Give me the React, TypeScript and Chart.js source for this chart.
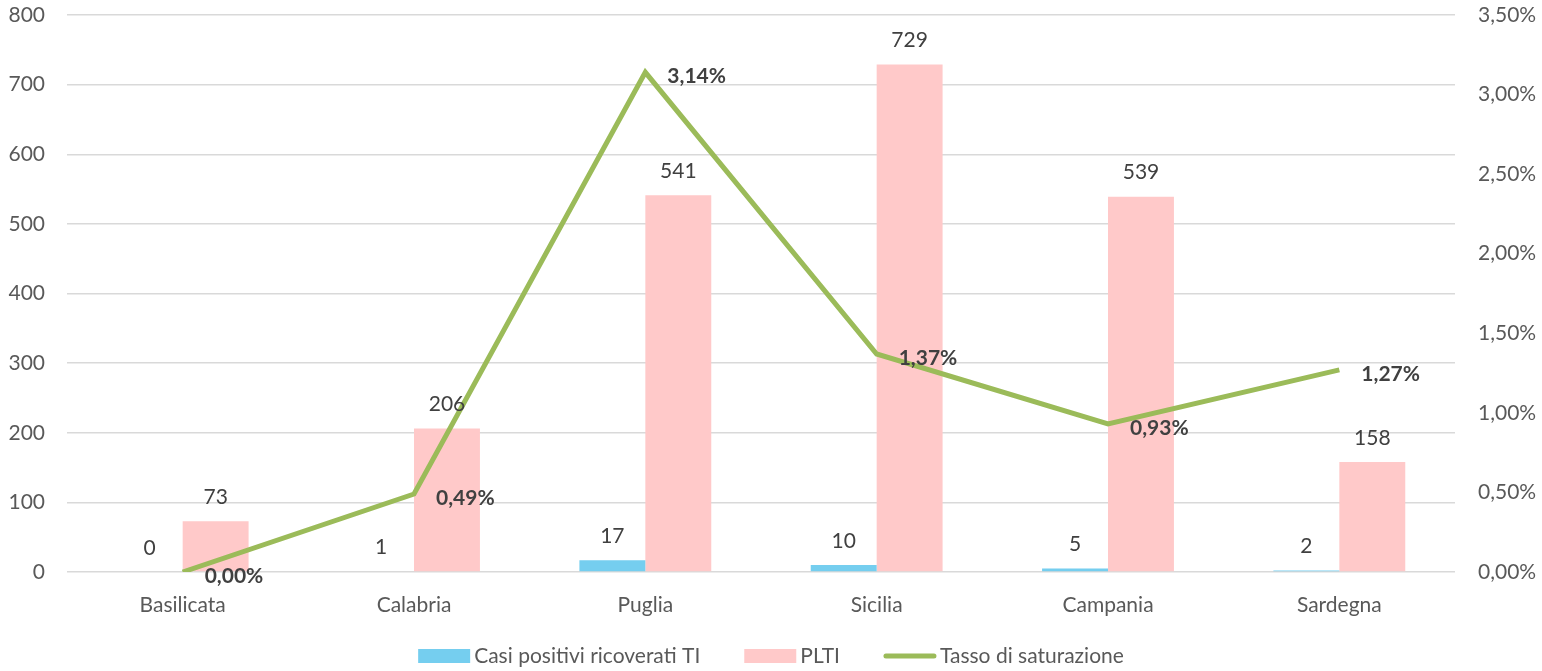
import React, { useEffect, useRef } from "react";
import { Chart, registerables } from "chart.js";

Chart.register(...registerables);

const categories = ["Basilicata", "Calabria", "Puglia", "Sicilia", "Campania", "Sardegna"];
const casiPositivi = [0, 1, 17, 10, 5, 2];
const plti = [73, 206, 541, 729, 539, 158];
const tassoSaturazione = [0.0, 0.0049, 0.0314, 0.0137, 0.0093, 0.0127];

const FONT = "Lato, 'Open Sans', sans-serif";
const FS = 21;

const fmtPct = (v: number, d = 2) => (v * 100).toFixed(d).replace(".", ",") + "%";

const labelPlugin = {
  id: "valueLabels",
  afterDatasetsDraw(chart: any) {
    const ctx = chart.ctx;
    ctx.save();
    chart.data.datasets.forEach((ds: any, i: number) => {
      const meta = chart.getDatasetMeta(i);
      meta.data.forEach((el: any, j: number) => {
        const v = ds.data[j];
        if (ds.type === "line") {
          ctx.font = `bold ${FS}px ${FONT}`;
          ctx.fillStyle = "#404040";
          ctx.textAlign = "left";
          ctx.textBaseline = "middle";
          ctx.fillText(fmtPct(v), el.x + 22, el.y + 4);
        } else {
          ctx.font = `${FS}px ${FONT}`;
          ctx.fillStyle = "#404040";
          ctx.textAlign = "center";
          ctx.textBaseline = "middle";
          ctx.fillText(String(v), el.x, el.y - 24);
        }
      });
    });
    ctx.restore();
  },
};

// Legend drawn from the datasets (Excel-like spacing)
const legendPlugin = {
  id: "bottomLegend",
  afterDraw(chart: any) {
    const ctx = chart.ctx;
    const boxW = 52;
    const boxH = 14;
    const textGap = 4;
    const itemGap = 44;
    const cy = 656;
    ctx.save();
    ctx.font = `${FS}px ${FONT}`;
    const items = chart.data.datasets.map((ds: any) => ({
      text: ds.label,
      color: ds.type === "line" ? ds.borderColor : ds.backgroundColor,
      line: ds.type === "line",
      w: ctx.measureText(ds.label).width,
    }));
    const total =
      items.reduce((s: number, it: any) => s + boxW + textGap + it.w, 0) + itemGap * (items.length - 1);
    let x = chart.width / 2 - total / 2;
    items.forEach((it: any) => {
      if (it.line) {
        ctx.strokeStyle = it.color;
        ctx.lineWidth = 5;
        ctx.lineCap = "round";
        ctx.beginPath();
        ctx.moveTo(x + 2, cy);
        ctx.lineTo(x + boxW - 2, cy);
        ctx.stroke();
      } else {
        ctx.fillStyle = it.color;
        ctx.fillRect(x, cy - boxH / 2, boxW, boxH);
      }
      x += boxW + textGap;
      ctx.fillStyle = "#595959";
      ctx.textAlign = "left";
      ctx.textBaseline = "middle";
      ctx.fillText(it.text, x, cy);
      x += it.w + itemGap;
    });
    ctx.restore();
  },
};

export default function App() {
  const ref = useRef<HTMLCanvasElement | null>(null);
  useEffect(() => {
    document.body.style.margin = "0";
    const chart = new Chart(ref.current as HTMLCanvasElement, {
      type: "bar",
      data: {
        labels: categories,
        datasets: [
          {
            type: "bar",
            label: "Casi positivi ricoverati TI",
            data: casiPositivi,
            backgroundColor: "#75CEEF",
            yAxisID: "y",
            order: 1,
            barPercentage: 1,
            categoryPercentage: 0.57,
          },
          {
            type: "bar",
            label: "PLTI",
            data: plti,
            backgroundColor: "#FFC9C9",
            yAxisID: "y",
            order: 1,
            barPercentage: 1,
            categoryPercentage: 0.57,
          },
          {
            type: "line",
            label: "Tasso di saturazione",
            data: tassoSaturazione,
            borderColor: "#9BBB59",
            backgroundColor: "#9BBB59",
            borderWidth: 5,
            pointRadius: 0,
            tension: 0,
            yAxisID: "y1",
            order: 0,
          } as any,
        ],
      },
      options: {
        responsive: false,
        animation: false,
        layout: { padding: { top: 15, bottom: 0 } },
        plugins: {
          tooltip: { enabled: false },
          legend: { display: false },
        },
        scales: {
          x: {
            grid: { display: false, drawTicks: true, tickLength: 21, tickColor: "transparent" },
            border: { display: false },
            ticks: { font: { family: FONT, size: FS }, color: "#595959", padding: 0 },
            afterFit: (s: any) => { s.height = 99; },
          },
          y: {
            position: "left",
            min: 0,
            max: 800,
            ticks: { stepSize: 100, font: { family: FONT, size: FS }, color: "#595959", padding: 0 },
            grid: { color: "#D9D9D9", lineWidth: 1.5, drawTicks: true, tickLength: 22, tickColor: "transparent" },
            border: { display: false },
            afterFit: (s: any) => { s.width = 67; },
          },
          y1: {
            position: "right",
            min: 0,
            max: 0.035,
            ticks: {
              stepSize: 0.005,
              font: { family: FONT, size: FS },
              color: "#595959",
              padding: 0,
              callback: (v: any) => fmtPct(Number(v)),
            },
            grid: { display: false, drawTicks: true, tickLength: 23, tickColor: "transparent" },
            border: { display: false },
            afterFit: (s: any) => { s.width = 87; },
          },
        },
      },
      plugins: [labelPlugin, legendPlugin],
    });
    return () => chart.destroy();
  }, []);
  return (
    <div style={{ width: 1542, height: 671 }}>
      <canvas ref={ref} width={1542} height={671} />
    </div>
  );
}
